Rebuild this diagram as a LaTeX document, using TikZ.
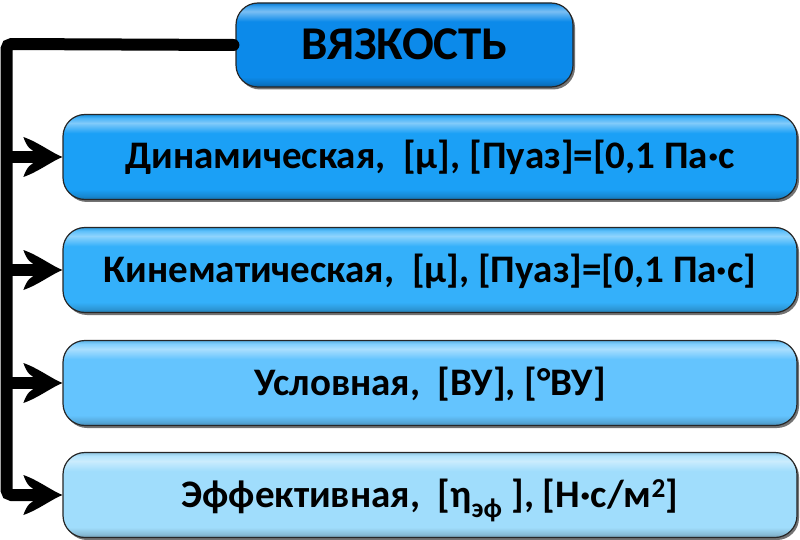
\documentclass[tikz,border=0pt]{standalone}
\usepackage{fontspec}
\setmainfont{Carlito}
\usetikzlibrary{arrows.meta,shadows}

\definecolor{cTop}{RGB}{12,138,234}
\definecolor{cBa}{RGB}{27,160,246}
\definecolor{cBb}{RGB}{52,176,250}
\definecolor{cBc}{RGB}{100,196,254}
\definecolor{cBd}{RGB}{160,221,252}

\newcommand\mkgloss[2]{\pgfdeclareverticalshading{#1}{100bp}{color(0bp)=(#2!70!black); color(25bp)=(#2!70!black); color(27bp)=(#2!85!black); color(31bp)=(#2); color(64bp)=(#2); color(70bp)=(#2!55!white); color(73bp)=(#2!80!white); color(75bp)=(#2!90!black); color(100bp)=(#2!90!black)}}
\mkgloss{gTop}{cTop}
\mkgloss{gBa}{cBa}
\mkgloss{gBb}{cBb}
\mkgloss{gBc}{cBc}
\mkgloss{gBd}{cBd}

\pgfdeclarearrow{
  name = Barb,
  parameters = {\the\pgfarrowlength,\the\pgfarrowwidth},
  setup code = {
    \pgfarrowssettipend{0pt}
    \pgfarrowssetbackend{-\pgfarrowlength}
    \pgfarrowssetlineend{-0.5\pgfarrowlength}
    \pgfarrowssavethe\pgfarrowlength
    \pgfarrowssavethe\pgfarrowwidth
  },
  drawing code = {
    \pgfpathmoveto{\pgfqpoint{0pt}{0pt}}
    \pgfpathcurveto{\pgfqpoint{-0.3\pgfarrowlength}{0.12\pgfarrowwidth}}{\pgfqpoint{-0.6\pgfarrowlength}{0.36\pgfarrowwidth}}{\pgfqpoint{-\pgfarrowlength}{0.5\pgfarrowwidth}}
    \pgfpathcurveto{\pgfqpoint{-0.92\pgfarrowlength}{0.26\pgfarrowwidth}}{\pgfqpoint{-0.8\pgfarrowlength}{0.14\pgfarrowwidth}}{\pgfqpoint{-0.64\pgfarrowlength}{0.12\pgfarrowwidth}}
    \pgfpathlineto{\pgfqpoint{-0.64\pgfarrowlength}{-0.12\pgfarrowwidth}}
    \pgfpathcurveto{\pgfqpoint{-0.8\pgfarrowlength}{-0.14\pgfarrowwidth}}{\pgfqpoint{-0.92\pgfarrowlength}{-0.26\pgfarrowwidth}}{\pgfqpoint{-\pgfarrowlength}{-0.5\pgfarrowwidth}}
    \pgfpathcurveto{\pgfqpoint{-0.6\pgfarrowlength}{-0.36\pgfarrowwidth}}{\pgfqpoint{-0.3\pgfarrowlength}{-0.12\pgfarrowwidth}}{\pgfqpoint{0pt}{0pt}}
    \pgfpathclose
    \pgfusepathqfill
  },
  defaults = {length = 39pt, width = 40pt}
}

\tikzset{
  box/.style={shade, draw=black!85, line width=1.2pt, rounded corners=22pt,
    minimum height=85pt, minimum width=734pt, inner sep=0pt,
    text height=24pt, text depth=0pt,
    font=\bfseries\fontsize{39}{46}\selectfont,
    drop shadow={shadow xshift=2pt, shadow yshift=-2.5pt, opacity=0.55, fill=black}},
  conn/.style={line width=12pt, black},
  branch/.style={conn, -{Barb[length=39pt,width=40pt]}}
}

\begin{document}
\begin{tikzpicture}[x=1pt,y=1pt]
\useasboundingbox (0,0) rectangle (800,-540);

\node[box, shading=gTop, minimum width=337pt, minimum height=84pt, text height=30pt,
  font=\bfseries\fontsize{47}{54}\selectfont] (top) at (404.5,-45) {ВЯЗКОСТЬ};
\node[box, shading=gBa] (b1) at (430,-157) {Динамическая,~ [µ], [Пуаз]=[0,1 Па·с};
\node[box, shading=gBb] (b2) at (430,-270) {Кинематическая,~ [µ], [Пуаз]=[0,1 Па·с]};
\node[box, shading=gBc] (b3) at (430,-383) {Условная,~ [ВУ], [°ВУ]};
\node[box, shading=gBd] (b4) at (430,-495) {Эффективная,~ [η\textsubscript{эф}~], [Н·с/м\textsuperscript{2}]};

\coordinate (c0) at (6.5,-44);
\coordinate (c4) at (6.5,-495);

\draw[branch, line cap=round, rounded corners=5pt, shorten <=2pt] (top.west) -- (c0) -- (c4) -- (b4.west);
\draw[branch] (c0 |- b1.west) -- (b1.west);
\draw[branch] (c0 |- b2.west) -- (b2.west);
\draw[branch] (c0 |- b3.west) -- (b3.west);
\end{tikzpicture}
\end{document}
